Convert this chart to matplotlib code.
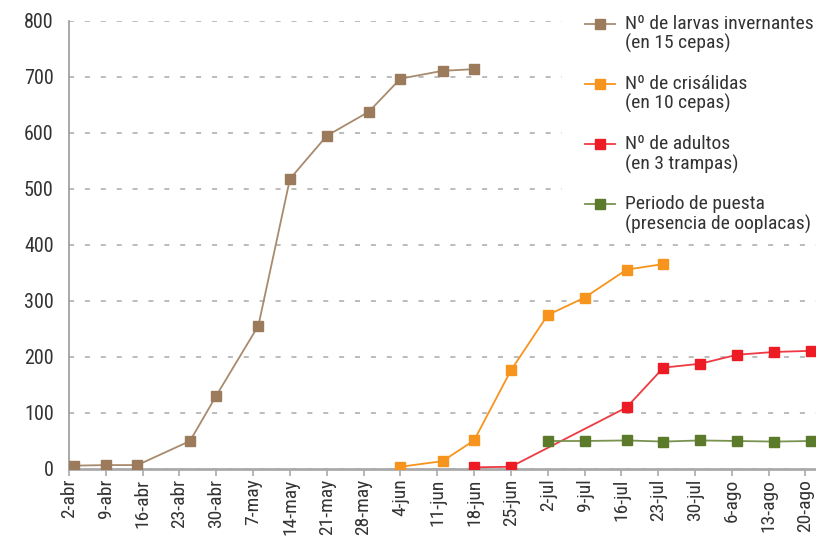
import pandas as pd
import numpy as np
import matplotlib
matplotlib.use("Agg")
import matplotlib.pyplot as plt
from matplotlib.lines import Line2D
from matplotlib.legend_handler import HandlerLine2D

plt.rcParams['font.family'] = ['Roboto Condensed', 'Roboto', 'DejaVu Sans']

# sampling dates and counts
larvas_fechas = ['2007-04-03', '2007-04-09', '2007-04-15', '2007-04-25', '2007-04-30', '2007-05-08',
                 '2007-05-14', '2007-05-21', '2007-05-29', '2007-06-04', '2007-06-12', '2007-06-18']
larvas = [6, 7, 7, 50, 131, 256, 518, 595, 638, 697, 711, 714]

crisal_fechas = ['2007-06-04', '2007-06-12', '2007-06-18', '2007-06-25', '2007-07-02', '2007-07-09',
                 '2007-07-17', '2007-07-24']
crisalidas = [4, 14, 51, 176, 275, 306, 356, 366]

adultos_fechas = ['2007-06-18', '2007-06-25', '2007-07-17', '2007-07-24', '2007-07-31', '2007-08-07',
                  '2007-08-14', '2007-08-21']
adultos = [3, 4, 110, 181, 188, 204, 209, 211]

puesta_fechas = ['2007-07-02', '2007-07-09', '2007-07-17', '2007-07-24', '2007-07-31', '2007-08-07',
                 '2007-08-14', '2007-08-21']
puesta = [50, 50, 51, 49, 51, 50, 49, 50]

etiquetas = ['2-abr', '9-abr', '16-abr', '23-abr', '30-abr', '7-may', '14-may', '21-may', '28-may',
             '4-jun', '11-jun', '18-jun', '25-jun', '2-jul', '9-jul', '16-jul', '23-jul', '30-jul',
             '6-ago', '13-ago', '20-ago']

series = [
    (larvas_fechas, larvas, '#9b7b5b', '#a88b6e', 'Nº de larvas invernantes\n(en 15 cepas)'),
    (crisal_fechas, crisalidas, '#f7941d', '#f7941d', 'Nº de crisálidas\n(en 10 cepas)'),
    (adultos_fechas, adultos, '#ed1c24', '#ee3a42', 'Nº de adultos\n(en 3 trampas)'),
    (puesta_fechas, puesta, '#5b7a2a', '#7a9250', 'Periodo de puesta\n(presencia de ooplacas)'),
]


class TopHandler(HandlerLine2D):
    # put the legend line next to the first text row instead of the middle
    def create_artists(self, legend, orig_handle, xdescent, ydescent, width, height, fontsize, trans):
        return super().create_artists(legend, orig_handle, xdescent, ydescent - 15, width, height,
                                      fontsize, trans)


fig = plt.figure(figsize=(8.16, 5.36), dpi=100)
ax = fig.add_axes([69 / 816, 67 / 536, 747 / 816, 448 / 536])

for fechas, vals, mcol, lcol, lab in series:
    ax.plot(pd.to_datetime(fechas), vals, '-', color=lcol, lw=1.3, marker='s', ms=7.2,
            mfc=mcol, mec=mcol, label=lab, zorder=3)

ticks = pd.date_range('2007-04-02', periods=len(etiquetas), freq='7D')
ax.set_xticks(ticks)
ax.set_xticklabels(etiquetas, rotation=90, fontsize=14, color='#333333')
ax.set_xlim(pd.Timestamp('2007-04-02'), pd.Timestamp('2007-04-02') + pd.Timedelta(days=142))

ax.set_ylim(0, 800)
ax.set_yticks(np.arange(0, 801, 100))
ax.tick_params(axis='y', length=0, pad=11, labelsize=14.5, labelcolor='#333333')
ax.tick_params(axis='x', length=5, width=1.2, color='#aaaaaa', pad=2)
ax.yaxis.grid(True, color='#aaaaaa', lw=1.1, linestyle=(0, (3.3, 7.1)))
ax.set_axisbelow(True)

for s in ['top', 'right']:
    ax.spines[s].set_visible(False)
ax.spines['left'].set_color('#999999')
ax.spines['left'].set_linewidth(1.2)
ax.spines['bottom'].set_color('#aaaaaa')
ax.spines['bottom'].set_linewidth(2)

# white block behind the legend hides the upper gridlines there
ax.add_patch(plt.Rectangle((562 / 816, 1 - 200 / 536), 254 / 816, 200 / 536, transform=fig.transFigure,
                           facecolor='white', edgecolor='none', zorder=1, clip_on=False))

leg = ax.legend(loc='upper left', bbox_to_anchor=(575 / 816, 1 - 5 / 536), bbox_transform=fig.transFigure,
                fontsize=14, frameon=False, handlelength=1.55, handletextpad=0.5, labelspacing=1.1,
                borderpad=0.5, borderaxespad=0, handler_map={Line2D: TopHandler()})
for t in leg.get_texts():
    t.set_color('#333333')
    t.set_linespacing(1.1)
leg.set_zorder(5)

fig.savefig('out.png', dpi=100)
